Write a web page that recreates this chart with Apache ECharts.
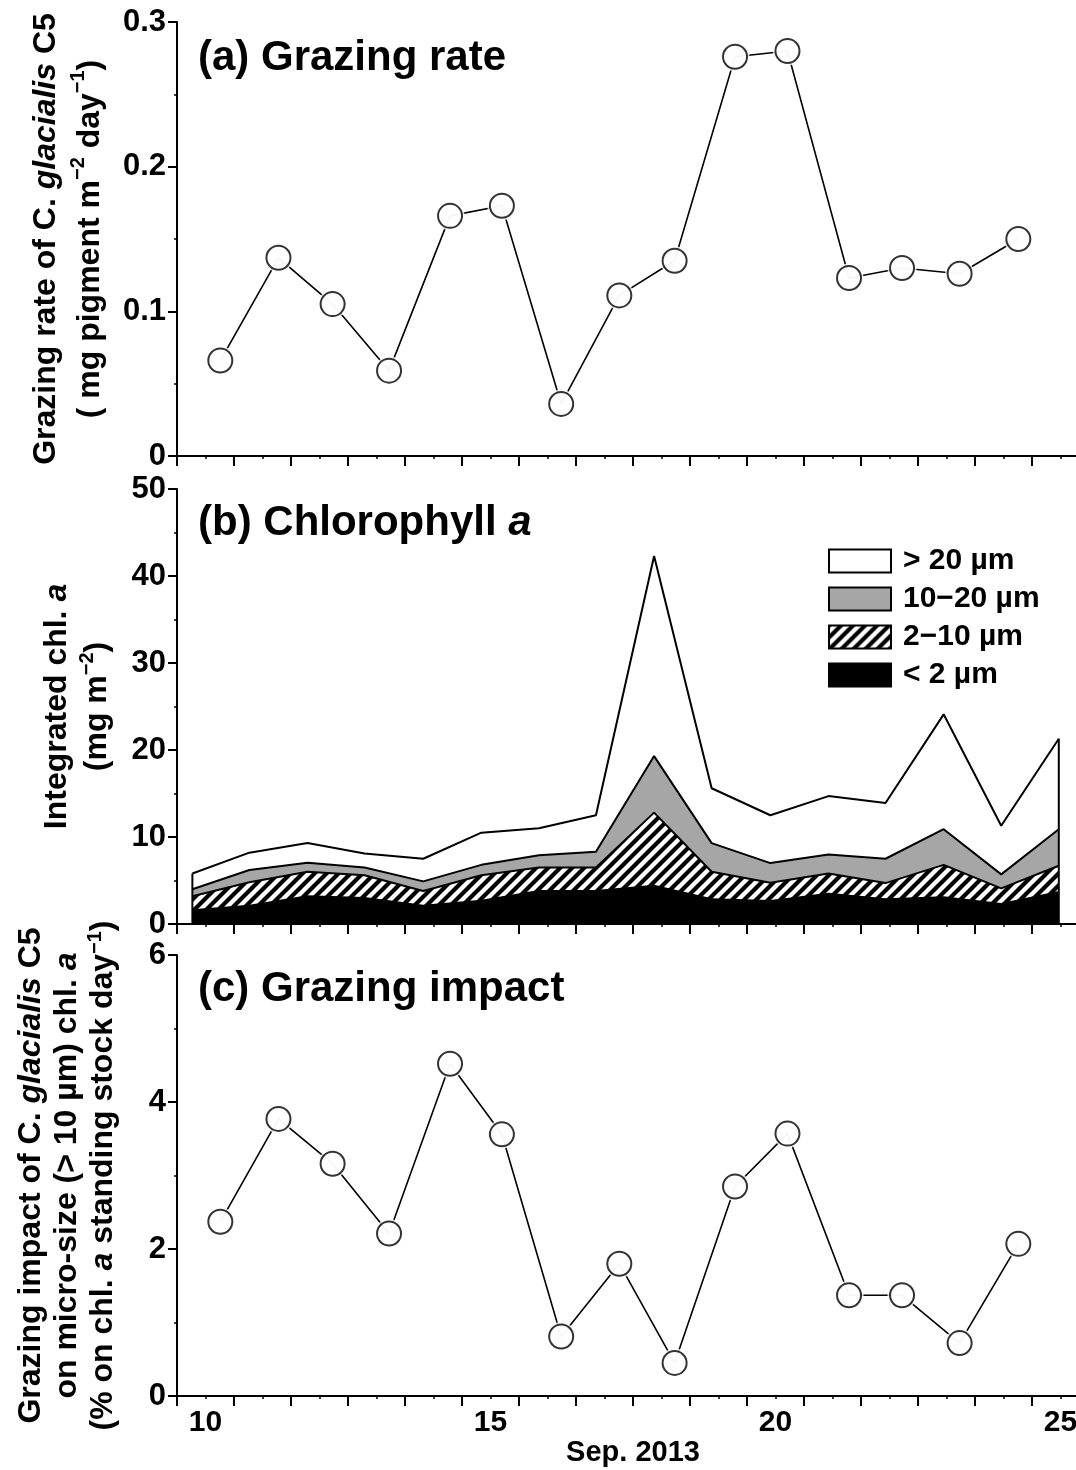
<!DOCTYPE html>
<html><head><meta charset="utf-8">
<script src="https://cdn.jsdelivr.net/npm/echarts@6/dist/echarts.min.js"></script>
<style>html,body{margin:0;padding:0;background:#fff}#c{width:1076px;height:1470px}</style>
</head><body><div id="c"></div>
<script>
// ---------- data ----------
const sampleDays = [10.26, 11.28, 12.23, 13.22, 14.29, 15.2, 16.24, 17.26, 18.23, 19.29, 20.21, 21.29, 22.22, 23.23, 24.26];
const grazingRate = [0.066, 0.137, 0.105, 0.059, 0.166, 0.173, 0.036, 0.111, 0.135, 0.276, 0.280, 0.123, 0.130, 0.126, 0.150];
const grazingImpact = [2.37, 3.77, 3.16, 2.21, 4.52, 3.56, 0.81, 1.80, 0.45, 2.85, 3.57, 1.37, 1.37, 0.72, 2.07];
const chlDays = [9.77, 10.77, 11.79, 12.79, 13.82, 14.84, 15.85, 16.85, 17.87, 18.88, 19.91, 20.93, 21.93, 22.95, 23.96, 24.97];
const chlLt2   = [1.7, 2.2, 3.3, 3.1, 2.2, 2.8, 3.9, 3.9, 4.5, 2.95, 2.75, 3.6, 2.95, 3.2, 2.4, 3.8];
const chl2to10 = [1.5, 2.6, 2.7, 2.5, 1.6, 2.8, 2.6, 2.6, 8.3, 3.05, 2.0, 2.2, 1.75, 3.6, 1.7, 2.9];
const chl10to20= [0.8, 1.4, 1.05, 0.9, 1.1, 1.2, 1.4, 1.8, 6.5, 3.3, 2.25, 2.2, 2.8, 4.1, 1.6, 4.2];
const chlGt20  = [1.8, 2.0, 2.25, 1.6, 2.6, 3.7, 3.1, 4.2, 23.0, 6.3, 5.5, 6.7, 6.4, 13.2, 5.6, 10.4];
const sizeClasses = ['> 20 µm', '10\u221220 µm', '2\u221210 µm', '< 2 µm'];
const xLabelDays = [10, 15, 20, 25];
const panelTitles = ['(a) Grazing rate', '(b) Chlorophyll {i|a}', '(c) Grazing impact'];

// ---------- helpers ----------
const FONT = 'Liberation Sans';
const pair = (xs, ys) => xs.map((x, i) => [x, ys[i]]);
const hatch = (() => {
  const c = document.createElement('canvas'); c.width = 12; c.height = 12;
  const g = c.getContext('2d');
  g.fillStyle = '#fff'; g.fillRect(0, 0, 12, 12);
  g.strokeStyle = '#000'; g.lineWidth = 4.2; g.beginPath();
  g.moveTo(-3, 15); g.lineTo(15, -3);
  g.moveTo(-3, 3); g.lineTo(3, -3);
  g.moveTo(9, 15); g.lineTo(15, 9);
  g.stroke();
  return { image: c, repeat: 'repeat' };
})();
// cumulative tops of the stacked size classes (bottom -> top)
const cum1 = chlLt2.slice();
const cum2 = cum1.map((v, i) => v + chl2to10[i]);
const cum3 = cum2.map((v, i) => v + chl10to20[i]);
const cum4 = cum3.map((v, i) => v + chlGt20[i]);

const grids = [
  { left: 177, width: 912, top: 22, height: 434, outerBoundsMode: 'none', containLabel: false },
  { left: 177, width: 912, top: 489, height: 435, outerBoundsMode: 'none', containLabel: false },
  { left: 177, width: 912, top: 955, height: 441, outerBoundsMode: 'none', containLabel: false }
];
function xAxis(i) {
  return {
    type: 'value', gridIndex: i, min: 9.5, max: 25.5, interval: 1,
    axisLine: { lineStyle: { color: '#000', width: 2 } },
    axisTick: { length: 10, lineStyle: { color: '#000', width: 2 } },
    minorTick: { show: true, splitNumber: 2, length: 3, lineStyle: { color: '#000', width: 1.5 } },
    splitLine: { show: false },
    axisLabel: i === 2 ? { customValues: xLabelDays, margin: 12, color: '#000', fontFamily: FONT, fontWeight: 'bold', fontSize: 30 } : { show: false },
    name: i === 2 ? 'Sep. 2013' : '', nameLocation: 'middle', nameGap: 42,
    nameTextStyle: { color: '#000', fontFamily: FONT, fontWeight: 'bold', fontSize: 29 }
  };
}
const richBase = (lh) => ({
  b: { fontFamily: FONT, fontWeight: 'bold', fontSize: 32, color: '#000', lineHeight: lh },
  bi: { fontFamily: FONT, fontWeight: 'bold', fontStyle: 'italic', fontSize: 32, color: '#000', lineHeight: lh },
  sup: { fontFamily: FONT, fontWeight: 'bold', fontSize: 20, color: '#000', lineHeight: lh, verticalAlign: 'top' }
});
function yAxis(i, max, interval, name, gap, lh) {
  return {
    type: 'value', gridIndex: i, min: 0, max: max, interval: interval,
    axisLine: { show: true, lineStyle: { color: '#000', width: 2 } },
    axisTick: { show: true, length: 9, lineStyle: { color: '#000', width: 2 } },
    minorTick: { show: true, splitNumber: 2, length: 3, lineStyle: { color: '#000', width: 1.5 } },
    splitLine: { show: false },
    axisLabel: { margin: 11, color: '#000', fontFamily: FONT, fontWeight: 'bold', fontSize: 31 },
    name: name, nameLocation: 'middle', nameRotate: 90, nameGap: gap,
    nameTextStyle: { rich: richBase(lh), lineHeight: lh }
  };
}
const yNameA = '{b|Grazing rate of C. }{bi|glacialis}{b| C5}\n{b|( mg pigment m}{sup|\u22122}{b| day}{sup|\u22121}{b|)}';
const yNameB = '{b|Integrated chl. }{bi|a}\n{b|(mg m}{sup|\u22122}{b|)}';
const yNameC = '{b|Grazing impact of C. }{bi|glacialis}{b| C5}\n{b|on micro-size (> 10 µm) chl. }{bi|a}\n{b|(% on chl. }{bi|a}{b| standing stock day}{sup|\u22121}{b|)}';

function pointSeries(i, ys) {
  const d = pair(sampleDays, ys);
  return [
    { type: 'line', xAxisIndex: i, yAxisIndex: i, data: d, symbol: 'none', lineStyle: { color: '#000', width: 1.6 }, z: 3 },
    { type: 'scatter', xAxisIndex: i, yAxisIndex: i, data: d, symbolSize: 29, itemStyle: { color: '#fff' }, z: 4, silent: true },
    { type: 'scatter', xAxisIndex: i, yAxisIndex: i, data: d, symbolSize: 24, itemStyle: { color: '#fff', borderColor: '#000', borderWidth: 2 }, z: 5 }
  ];
}
function areaSeries(name, tops, fill, lineW, z) {
  return {
    type: 'line', name: name, xAxisIndex: 1, yAxisIndex: 1, data: pair(chlDays, tops),
    symbol: 'none', itemStyle: { color: fill }, areaStyle: { color: fill, opacity: 1, origin: 'start' },
    lineStyle: { color: '#000', width: lineW }, z: z
  };
}
const titleStyle = { color: '#000', fontFamily: FONT, fontWeight: 'bold', fontSize: 42, rich: { i: { fontFamily: FONT, fontWeight: 'bold', fontStyle: 'italic', fontSize: 42, color: '#000' } } };
const lastI = chlDays.length - 1;

const option = {
  animation: false,
  backgroundColor: '#fff',
  title: [
    { text: panelTitles[0], left: 198, top: 37, padding: 0, textStyle: titleStyle },
    { text: panelTitles[1], left: 198, top: 502, padding: 0, textStyle: titleStyle },
    { text: panelTitles[2], left: 198, top: 968, padding: 0, textStyle: titleStyle }
  ],
  legend: {
    data: sizeClasses, orient: 'vertical', left: 823, top: 541, icon: 'rect',
    itemWidth: 62, itemHeight: 23, itemGap: 8, selectedMode: false,
    itemStyle: { borderColor: '#000', borderWidth: 2 },
    textStyle: { color: '#000', fontFamily: FONT, fontWeight: 'bold', fontSize: 30, padding: [0, 0, 0, 7] }
  },
  grid: grids,
  xAxis: [xAxis(0), xAxis(1), xAxis(2)],
  yAxis: [
    yAxis(0, 0.3, 0.1, yNameA, 55, 44),
    yAxis(1, 50, 10, yNameB, 60, 40),
    yAxis(2, 6, 2, yNameC, 56, 36)
  ],
  series: [
    ...pointSeries(0, grazingRate),
    areaSeries(sizeClasses[0], cum4, '#fff', 2, 2),
    areaSeries(sizeClasses[1], cum3, '#a6a6a6', 2, 3),
    areaSeries(sizeClasses[2], cum2, hatch, 2, 4),
    areaSeries(sizeClasses[3], cum1, '#000', 0, 5),
    { type: 'line', xAxisIndex: 1, yAxisIndex: 1, data: [[chlDays[0], 0], [chlDays[0], cum4[0]]], symbol: 'none', lineStyle: { color: '#000', width: 2 }, z: 6 },
    { type: 'line', xAxisIndex: 1, yAxisIndex: 1, data: [[chlDays[lastI], 0], [chlDays[lastI], cum4[lastI]]], symbol: 'none', lineStyle: { color: '#000', width: 2 }, z: 6 },
    ...pointSeries(2, grazingImpact)
  ]
};
const chart = echarts.init(document.getElementById('c'), null, { renderer: 'canvas' });
chart.setOption(option);
</script></body></html>
